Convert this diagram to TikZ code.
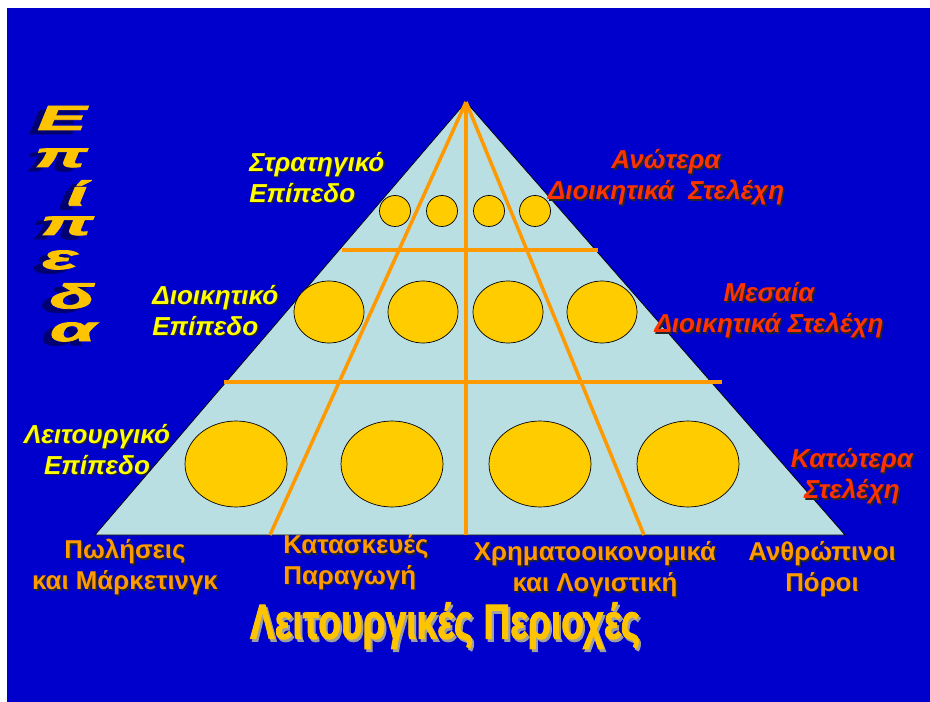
\documentclass[tikz,border=0pt]{standalone}
\usepackage{fontspec}
\setmainfont{Liberation Sans}
\newfontfamily\heavyfont[BoldFeatures={FakeBold=2.2}, BoldItalicFeatures={FakeBold=2.2}]{Liberation Sans}
\usetikzlibrary{shapes.geometric}

\definecolor{slideblue}{RGB}{0,0,204}
\definecolor{pyrfill}{RGB}{185,223,226}
\definecolor{gridorange}{RGB}{255,153,0}
\definecolor{discgold}{RGB}{255,204,0}
\definecolor{lvlyellow}{RGB}{255,255,0}
\definecolor{staffred}{RGB}{255,51,0}
\definecolor{artgold}{RGB}{255,196,0}

% text with a small drop shadow
\def\shdx{0.9pt}
\def\shdy{0.9pt}
\newcommand{\shd}[2][black!85]{\makebox[0pt][l]{\kern\shdx\raisebox{-\shdy}{\textcolor{#1}{#2}}}#2}

\begin{document}
\begin{tikzpicture}[
        x=0.02cm, y=-0.02cm,
        every node/.style={inner sep=0pt},
        level/.style={text=lvlyellow, font=\bfseries\itshape\fontsize{14.8}{17.5}\selectfont},
        staff/.style={text=staffred, align=center, font=\bfseries\itshape\fontsize{14.8}{17.5}\selectfont},
        area/.style={text=gridorange, align=center, font=\bfseries\fontsize{14.7}{17.5}\selectfont},
        disc/.style={ellipse, draw=black, thin, fill=discgold},
        grid/.style={draw=gridorange, line width=2pt},
        wordart/.style={text=artgold, font=\heavyfont\bfseries\itshape\fontsize{22}{22}\selectfont,
            execute at begin node={\def\shdx{-2.6pt}\def\shdy{2.6pt}}}
    ]

        \useasboundingbox (0,0) rectangle (930,702);
        \fill[white] (0,0) rectangle (930,702);
        \fill[slideblue] (7,8) rectangle (930,702);

        % pyramid
        \coordinate (apex) at (466,102);
        \coordinate (bl) at (95,535);
        \coordinate (br) at (845,535);
        \filldraw[fill=pyrfill, draw=black, thin] (apex) -- (bl) -- (br) -- cycle;

        % orange grid
        \coordinate (foot1) at (270,535);
        \coordinate (foot2) at (466,535);
        \coordinate (foot3) at (644,535);
        \foreach \f in {foot1,foot2,foot3} {
            \draw[grid] (apex) -- (\f);
        }
        \coordinate (upL) at (342,250);
        \coordinate (upR) at (598,250);
        \coordinate (loL) at (224,382);
        \coordinate (loR) at (722,382);
        \draw[grid] (upL) -- (upR);
        \draw[grid] (loL) -- (loR);

        % discs
        \foreach \x [count=\i] in {395,442,489,535} {
            \node[disc, minimum width=0.62cm, minimum height=0.62cm] (top\i) at (\x,211) {};
        }
        \foreach \x [count=\i] in {329,423,508,602} {
            \node[disc, minimum width=1.4cm, minimum height=1.24cm] (mid\i) at (\x,312) {};
        }
        \foreach \x [count=\i] in {236,392,540,688} {
            \node[disc, minimum width=2.04cm, minimum height=1.72cm] (low\i) at (\x,464) {};
        }

        % levels
        \node[level, anchor=west, align=left] (strat) at (249,178) {\shd{Στρατηγικό}\\\shd{Επίπεδο}};
        \node[level, anchor=west, align=left] (admin) at (152,311) {\shd{Διοικητικό}\\\shd{Επίπεδο}};
        \node[level, align=center] (oper) at (97,450) {\shd{Λειτουργικό}\\\shd{Επίπεδο}};

        % staff
        \node[staff] (upper) at (666,178) {\shd{Ανώτερα}\\\shd{Διοικητικά\ \ Στελέχη}};
        \node[staff] (middle) at (769,311) {\shd{Μεσαία}\\\shd{Διοικητικά Στελέχη}};
        \node[staff] (lower) at (852,477) {\shd{Κατώτερα}\\\shd{Στελέχη}};

        % functional areas
        \node[area] (sales) at (125,568) {\shd{Πωλήσεις}\\\shd{και Μάρκετινγκ}};
        \node[area, anchor=west, align=left] (prod) at (283,563) {\shd{Κατασκευές}\\\shd{Παραγωγή}};
        \node[area] (fin) at (595,570) {\shd{Χρηματοοικονομικά}\\\shd{και Λογιστική}};
        \node[area] (hr) at (822,570) {\shd{Ανθρώπινοι}\\\shd{Πόροι}};

        % titles
        \node[text=artgold, font=\heavyfont\bfseries\fontsize{28}{28}\selectfont] (areas) at (445,627)
            {\resizebox{7.8cm}{\height}{\def\shdx{1.5pt}\def\shdy{1.5pt}\shd[gray!75]{Λειτουργικές Περιοχές}}};
        \foreach \ch/\x/\y [count=\i] in {Ε/62/120, π/61/160, ί/77/195, π/67/228, ε/60/262, δ/72/298, α/73/334} {
            \node[wordart] (lvl\i) at (\x,\y) {\scalebox{1.9}[0.9]{\shd[blue!45!black]{\ch}}};
        }

    \end{tikzpicture}
\end{document}
